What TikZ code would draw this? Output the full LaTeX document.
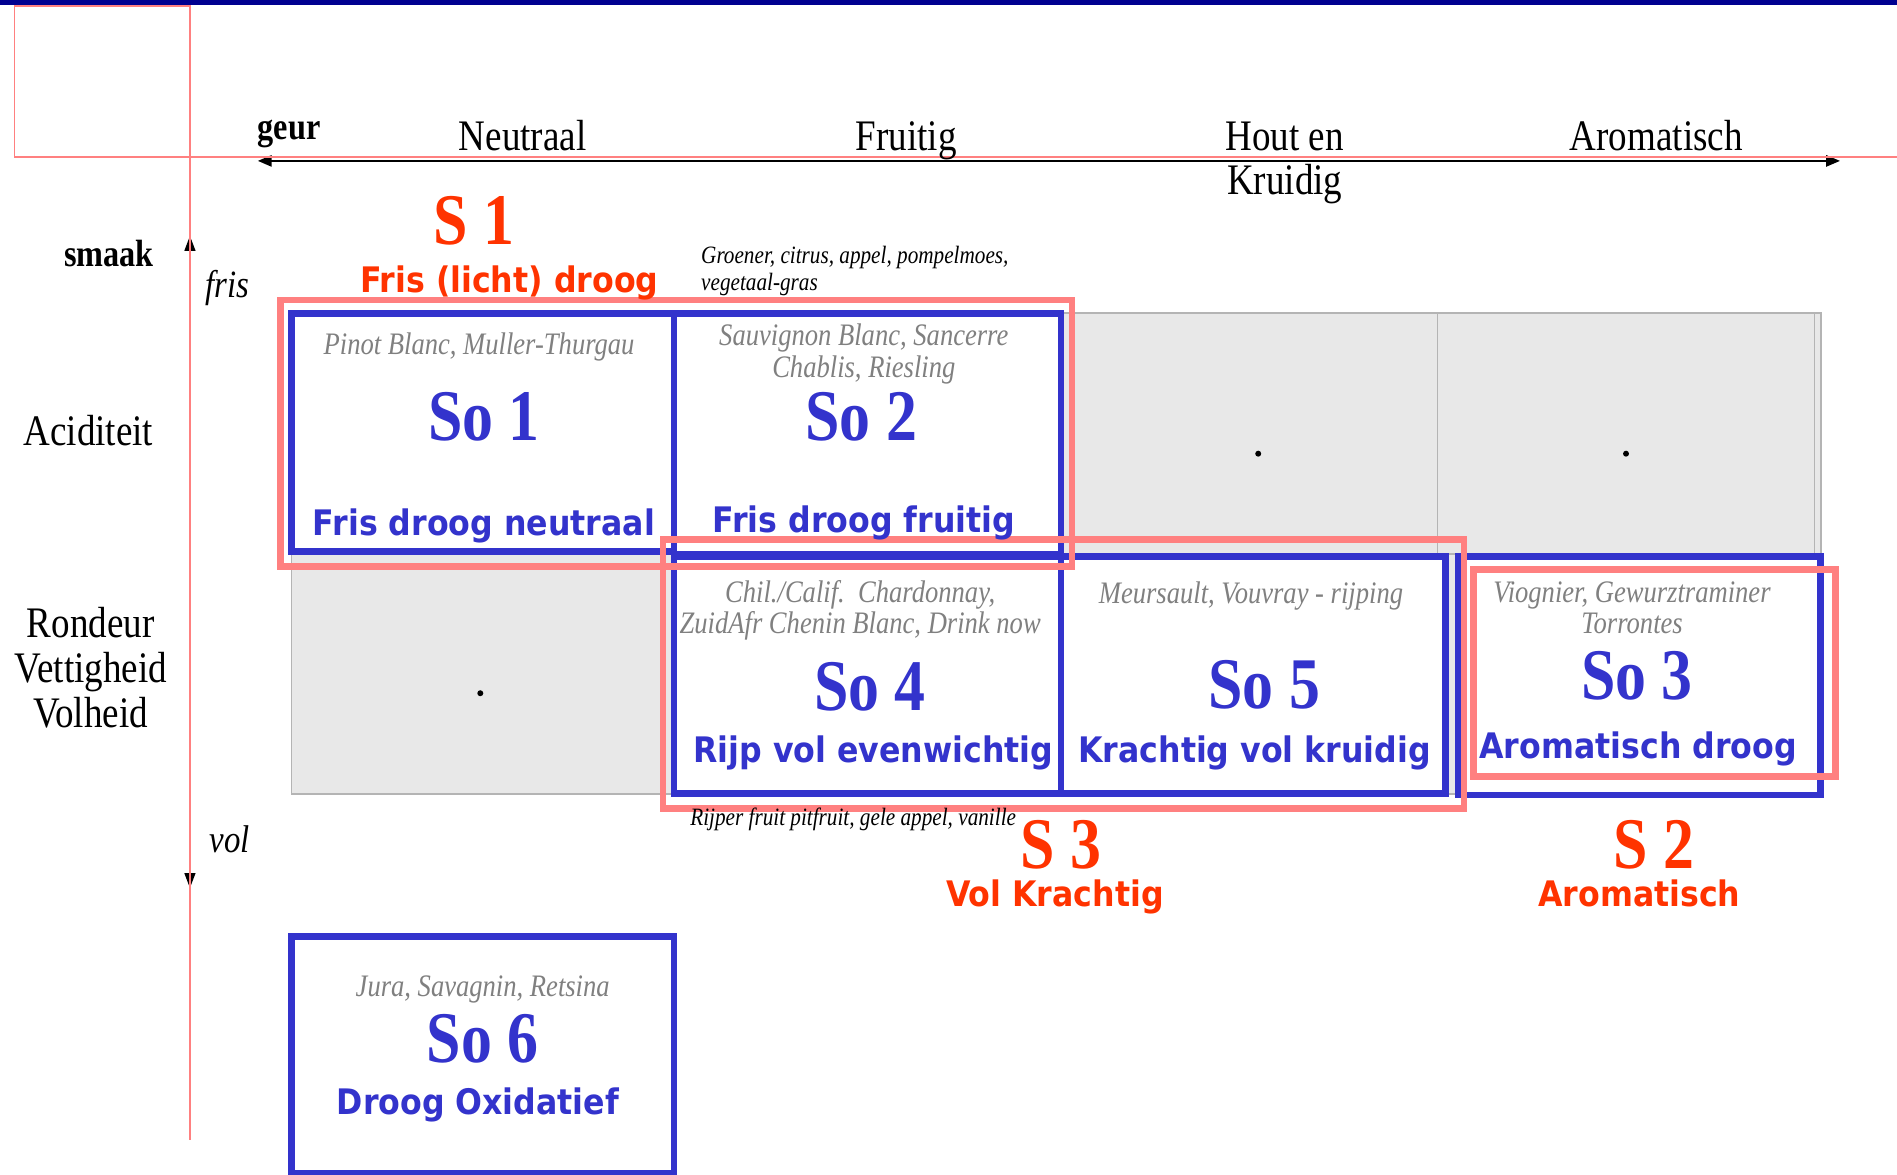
\documentclass[tikz,border=0pt]{standalone}
\usepackage{fontspec}
\setmainfont{Liberation Serif}[FakeStretch=0.85]
\newfontfamily\labelsans{DejaVu Sans}[FakeStretch=0.9]
\usetikzlibrary{arrows.meta}
\definecolor{wineblue}{HTML}{3333CC}
\definecolor{winepink}{HTML}{FF8080}
\definecolor{winered}{HTML}{FF3300}
\definecolor{navybar}{HTML}{000090}
\definecolor{cellgrey}{HTML}{E8E8E8}
\definecolor{cellline}{HTML}{B4B4B4}
\begin{document}
\begin{tikzpicture}[x=0.121mm,y=-0.121mm,
  every node/.style={inner sep=0pt, anchor=base},
  axisname/.style={font=\fontsize{12.4}{12.7}\selectfont, align=center},
  axistitle/.style={font=\fontsize{10.8}{11}\selectfont\bfseries},
  endname/.style={font=\fontsize{11}{11}\selectfont\itshape},
  wines/.style={font=\fontsize{8.9}{9}\selectfont\itshape, text=gray, align=center},
  notes/.style={font=\fontsize{7.1}{7.6}\selectfont\itshape, align=left, anchor=base west},
  soname/.style={font=\fontsize{20.7}{22}\selectfont\bfseries, text=wineblue},
  sname/.style={font=\fontsize{20.7}{22}\selectfont\bfseries, text=winered},
  sotitle/.style={font=\labelsans\fontsize{10}{11}\selectfont\bfseries, text=wineblue},
  stitle/.style={font=\labelsans\fontsize{10}{11}\selectfont\bfseries, text=winered},
  bluebox/.style={draw=wineblue, line width=1.9pt},
  pinkbox/.style={draw=winepink, line width=1.9pt},
  cell/.style={fill=cellgrey, draw=cellline, line width=0.5pt},
  thinpink/.style={draw=winepink, line width=0.5pt},
  axisarrow/.style={{Triangle[length=1.4mm,width=1.1mm]}-{Triangle[length=1.4mm,width=1.1mm]}},
  smaakarrow/.style={{Triangle[length=1.5mm,width=1.1mm]}-{Triangle[length=1.5mm,width=1.1mm]}}
]
\fill[white] (0,0) rectangle (1568,971);
\useasboundingbox (0,0) rectangle (1568,971);
\fill[navybar] (0,0) rectangle (1568,4.5);

\coordinate (geurW) at (213,133);
\coordinate (geurE) at (1521,133);
\coordinate (smaakN) at (157,195);
\coordinate (smaakS) at (157,734);
\draw[axisarrow, line width=0.75pt] (geurW) -- (geurE);
\draw[smaakarrow, line width=0.4pt] (smaakN) -- (smaakS);
\draw[thinpink] (12,5) rectangle (157,130);
\draw[thinpink] (157,130) -- (1568,130);
\draw[thinpink] (157,5) -- (157,942);

\draw[cell] (241,259) rectangle (1505,656);
\draw[cellline] (557,259) -- (557,656);
\draw[cellline] (877,259) -- (877,656);
\draw[cellline] (1188,259) -- (1188,458);
\draw[cellline] (241,458) -- (1505,458);
\draw[cellline] (1500,259) -- (1500,458);
\fill (1040,375) circle (0.3mm);
\fill (1344,375) circle (0.3mm);
\fill (397,573) circle (0.3mm);

\fill[white] (241,259) rectangle (877,458);
\fill[white] (557,458) rectangle (1195,656);
\fill[white] (1205,460) rectangle (1505,657);
\draw[bluebox] (241,259) rectangle (557,456);
\draw[bluebox] (557,259) rectangle (877,458);
\draw[bluebox] (557,460) rectangle (877,656);
\draw[bluebox] (877,460) rectangle (1195,656);
\draw[bluebox] (1205,460) rectangle (1505,657);
\draw[bluebox] (241,774) rectangle (557,970);
\draw[pinkbox] (232,248) rectangle (886,468);
\draw[pinkbox] (548,446) rectangle (1210,668);
\draw[pinkbox] (1218,471) rectangle (1517,642);

\node[axistitle] (geur) at (239,115) {geur};
\node[axisname] (neutraal) at (432,124) {Neutraal};
\node[axisname] (fruitig) at (749,124) {Fruitig};
\node[axisname] (hout) at (1062,161) {Hout en\\Kruidig};
\node[axisname] (aromatisch) at (1369,124) {Aromatisch};
\node[axistitle] (smaak) at (90,220) {smaak};
\node[endname] (fris) at (188,246) {fris};
\node[endname] (vol) at (190,705) {vol};
\node[axisname] (aciditeit) at (73,368) {Aciditeit};
\node[axisname] (rondeur) at (75,601) {Rondeur\\Vettigheid\\Volheid};

\node[sname] (s1) at (392,202) {S 1};
\node[stitle] (s1title) at (421,242) {Fris (licht) droog};
\node[notes] (s1notes) at (579,240) {Groener, citrus, appel, pompelmoes,\\vegetaal-gras};

\node[wines] (so1wines) at (396,293) {Pinot Blanc, Muller-Thurgau};
\node[soname] (so1) at (400,364) {So 1};
\node[sotitle] (so1title) at (400,443) {Fris droog neutraal};
\node[wines] (so2wines) at (714,312) {Sauvignon Blanc, Sancerre\\Chablis, Riesling};
\node[soname] (so2) at (712,364) {So 2};
\node[sotitle] (so2title) at (714,440) {Fris droog fruitig};

\node[wines] (so4wines) at (711,524) {Chil./Calif.\ \ Chardonnay,\\ZuidAfr Chenin Blanc, Drink now};
\node[soname] (so4) at (719,587) {So 4};
\node[sotitle] (so4title) at (722,630) {Rijp vol evenwichtig};
\node[wines] (so5wines) at (1034,499) {Meursault, Vouvray - rijping};
\node[soname] (so5) at (1045,586) {So 5};
\node[sotitle] (so5title) at (1037,630) {Krachtig vol kruidig};
\node[wines] (so3wines) at (1349,524) {Viognier, Gewurztraminer\\Torrontes};
\node[soname] (so3) at (1353,578) {So 3};
\node[sotitle] (so3title) at (1354,627) {Aromatisch droog};

\node[notes] (s3notes) at (570,682) {Rijper fruit pitfruit, gele appel, vanille};
\node[sname] (s3) at (877,718) {S 3};
\node[stitle] (s3title) at (872,749) {Vol Krachtig};
\node[sname] (s2) at (1367,718) {S 2};
\node[stitle] (s2title) at (1355,749) {Aromatisch};

\node[wines] (so6wines) at (399,824) {Jura, Savagnin, Retsina};
\node[soname] (so6) at (399,878) {So 6};
\node[sotitle] (so6title) at (395,921) {Droog Oxidatief};
\end{tikzpicture}
\end{document}
